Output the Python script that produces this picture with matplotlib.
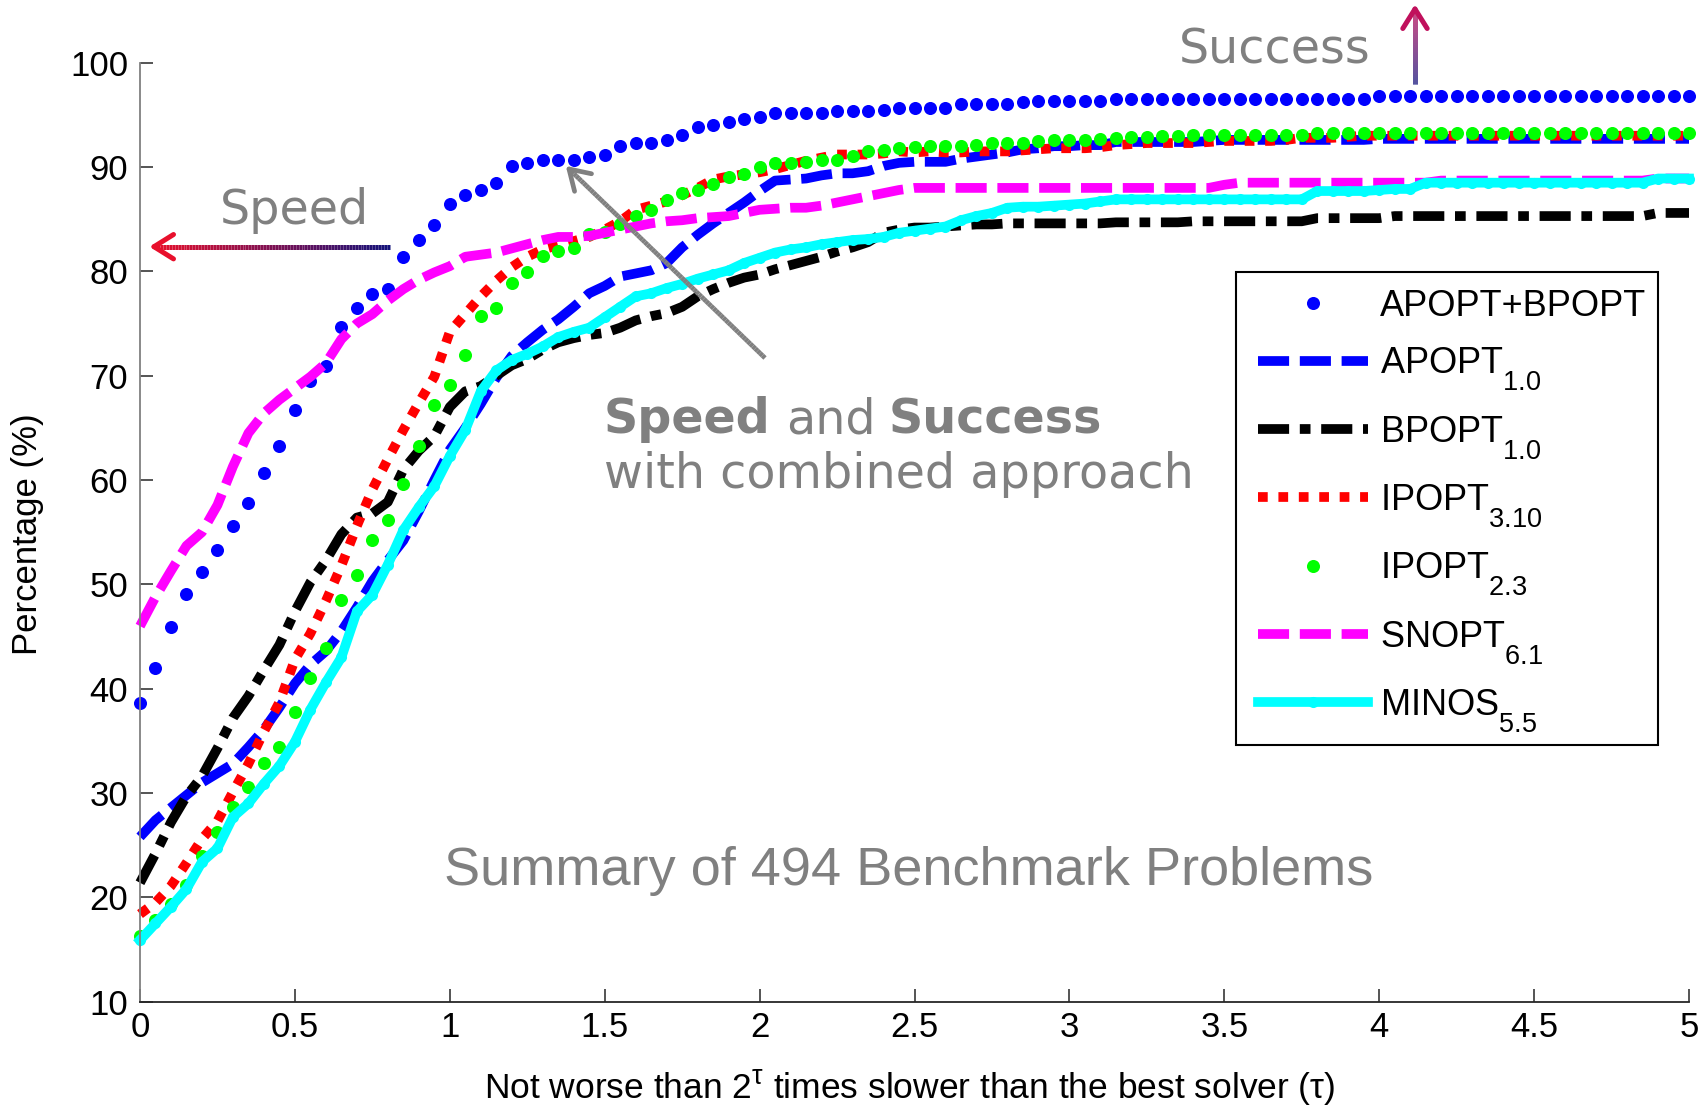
import numpy as np
import matplotlib
matplotlib.use("Agg")
import matplotlib.pyplot as plt
import matplotlib._mathtext as _mt
from matplotlib.collections import LineCollection
from matplotlib.lines import Line2D
from matplotlib.patches import Rectangle

plt.rcParams["font.family"] = ["Liberation Sans", "DejaVu Sans"]
plt.rcParams["mathtext.fontset"] = "custom"
plt.rcParams["mathtext.rm"] = "Liberation Sans"
plt.rcParams["mathtext.it"] = "Liberation Sans:italic"
plt.rcParams["mathtext.bf"] = "Liberation Sans:bold"
# larger, lower subscripts for the solver version numbers
_mt.SHRINK_FACTOR = 0.75
_mt.FontConstantsBase.sub1 = 0.85

# ---- performance-profile data (tau grid in steps of 0.05, percentage solved) ----
tau = np.round(np.arange(101) * 0.05, 2)

apopt_bpopt = [38.6, 42.0, 45.9, 49.1, 51.2, 53.3, 55.6, 57.8, 60.7, 63.3,
               66.7, 69.5, 70.9, 74.7, 76.5, 77.8, 78.3, 81.4, 83.0, 84.4,
               86.5, 87.3, 87.8, 88.5, 90.1, 90.4, 90.7, 90.7, 90.7, 91.0,
               91.2, 92.0, 92.3, 92.3, 92.6, 93.1, 93.8, 94.0, 94.3, 94.6,
               94.8, 95.2, 95.2, 95.2, 95.2, 95.4, 95.4, 95.4, 95.5, 95.7,
               95.7, 95.7, 95.7, 96.0, 96.0, 96.0, 96.0, 96.2, 96.3, 96.3,
               96.3, 96.3, 96.3, 96.5, 96.5, 96.5, 96.5, 96.5, 96.5, 96.5,
               96.5, 96.5, 96.5, 96.5, 96.5, 96.5, 96.5, 96.5, 96.5, 96.5,
               96.8, 96.8, 96.8, 96.8, 96.8, 96.8, 96.8, 96.8, 96.8, 96.8,
               96.8, 96.8, 96.8, 96.8, 96.8, 96.8, 96.8, 96.8, 96.8, 96.8, 96.8]

apopt = [25.8, 27.4, 28.6, 29.8, 31.0, 31.9, 32.8, 34.4, 36.1, 38.2,
         40.5, 42.3, 43.6, 45.5, 47.8, 50.3, 52.3, 54.2, 57.0, 60.0,
         62.9, 65.0, 67.3, 69.8, 71.9, 73.2, 74.4, 75.4, 76.6, 77.9,
         78.6, 79.5, 79.8, 80.1, 80.8, 82.3, 83.5, 84.6, 85.6, 86.6,
         87.7, 88.7, 88.8, 88.9, 89.2, 89.4, 89.4, 89.6, 90.1, 90.4,
         90.5, 90.5, 90.5, 90.8, 91.0, 91.2, 91.4, 91.7, 91.8, 92.0,
         92.0, 92.1, 92.1, 92.4, 92.4, 92.4, 92.4, 92.4, 92.4, 92.5,
         92.6, 92.6, 92.6, 92.6, 92.6, 92.6, 92.6, 92.6, 92.6, 92.6,
         92.7, 92.7, 92.7, 92.7, 92.7, 92.7, 92.7, 92.7, 92.7, 92.7,
         92.7, 92.7, 92.7, 92.7, 92.7, 92.7, 92.7, 92.7, 92.7, 92.7, 92.7]

bpopt = [21.4, 24.2, 27.2, 29.7, 31.6, 34.3, 37.2, 39.3, 41.8, 44.2,
         47.4, 50.2, 52.3, 54.8, 56.4, 56.8, 57.9, 61.0, 62.8, 64.2,
         67.0, 68.5, 69.0, 70.0, 71.0, 71.6, 72.5, 73.2, 73.6, 73.9,
         74.1, 74.6, 75.3, 75.7, 76.0, 76.6, 77.6, 78.3, 78.9, 79.4,
         79.7, 80.2, 80.6, 81.0, 81.4, 81.9, 82.3, 82.8, 83.7, 84.0,
         84.2, 84.2, 84.3, 84.4, 84.5, 84.5, 84.6, 84.6, 84.6, 84.6,
         84.6, 84.6, 84.6, 84.7, 84.7, 84.7, 84.7, 84.7, 84.8, 84.8,
         84.8, 84.8, 84.8, 84.8, 84.8, 84.8, 85.1, 85.1, 85.1, 85.1,
         85.1, 85.3, 85.3, 85.3, 85.3, 85.3, 85.3, 85.3, 85.3, 85.3,
         85.3, 85.3, 85.3, 85.3, 85.3, 85.3, 85.3, 85.3, 85.6, 85.6, 85.6]

ipopt310 = [18.4, 19.5, 21.1, 23.3, 25.6, 27.3, 30.1, 32.8, 35.9, 38.7,
            42.8, 45.3, 48.4, 51.8, 55.6, 59.1, 62.0, 64.8, 67.4, 69.9,
            74.2, 75.9, 77.6, 79.1, 80.4, 81.4, 82.1, 82.5, 82.9, 83.3,
            84.0, 84.8, 85.9, 86.3, 86.7, 87.3, 88.0, 88.8, 89.1, 89.3,
            89.5, 89.8, 90.2, 90.6, 90.9, 91.2, 91.2, 91.2, 91.3, 91.5,
            91.4, 91.5, 91.4, 91.4, 91.5, 91.5, 91.5, 91.6, 91.7, 91.8,
            91.8, 91.8, 91.9, 92.1, 92.2, 92.3, 92.3, 92.3, 92.3, 92.4,
            92.5, 92.5, 92.5, 92.5, 92.6, 92.8, 92.8, 92.8, 92.9, 93.0,
            93.0, 93.0, 93.0, 93.0, 93.0, 93.0, 93.0, 93.0, 93.0, 93.0,
            93.0, 93.0, 93.0, 93.0, 93.0, 93.0, 93.0, 93.0, 93.0, 93.0, 93.0]

ipopt23 = [16.3, 17.8, 19.4, 21.2, 24.0, 26.3, 28.7, 30.6, 32.9, 34.4,
           37.8, 41.0, 43.9, 48.5, 50.9, 54.3, 56.2, 59.6, 63.3, 67.2,
           69.1, 72.0, 75.7, 76.5, 78.9, 79.9, 81.5, 82.0, 82.2, 83.6,
           83.8, 84.5, 85.3, 85.9, 86.8, 87.5, 87.8, 88.4, 89.0, 89.3,
           90.0, 90.4, 90.4, 90.5, 90.7, 90.7, 91.1, 91.5, 91.6, 91.8,
           91.9, 92.0, 92.0, 92.0, 92.1, 92.3, 92.3, 92.3, 92.5, 92.6,
           92.6, 92.6, 92.7, 92.8, 92.9, 92.9, 93.0, 93.0, 93.1, 93.1,
           93.1, 93.1, 93.1, 93.1, 93.1, 93.1, 93.3, 93.3, 93.3, 93.3,
           93.3, 93.3, 93.3, 93.3, 93.3, 93.3, 93.3, 93.3, 93.3, 93.3,
           93.3, 93.3, 93.3, 93.3, 93.3, 93.3, 93.3, 93.3, 93.3, 93.3, 93.3]

snopt = [46.0, 48.8, 51.3, 53.7, 55.0, 57.6, 61.3, 64.5, 66.4, 67.7,
         68.8, 69.9, 71.2, 73.5, 75.0, 75.9, 77.2, 78.3, 79.2, 79.9,
         80.5, 81.4, 81.6, 81.8, 82.2, 82.6, 83.0, 83.3, 83.3, 83.4,
         83.7, 84.0, 84.3, 84.6, 84.8, 84.9, 85.1, 85.2, 85.3, 85.6,
         85.9, 86.0, 86.1, 86.1, 86.3, 86.6, 86.9, 87.2, 87.5, 87.8,
         88.0, 88.0, 88.0, 88.0, 88.0, 88.0, 88.0, 88.0, 88.0, 88.0,
         88.0, 88.0, 88.0, 88.0, 88.0, 88.0, 88.0, 88.0, 88.0, 88.0,
         88.3, 88.5, 88.5, 88.5, 88.5, 88.5, 88.5, 88.5, 88.5, 88.5,
         88.5, 88.5, 88.5, 88.5, 88.7, 88.7, 88.7, 88.7, 88.7, 88.7,
         88.7, 88.7, 88.7, 88.7, 88.7, 88.7, 88.7, 88.7, 88.9, 88.9, 88.9]

minos = [15.9, 17.5, 19.1, 20.8, 23.4, 24.7, 27.7, 29.0, 30.9, 32.6,
         34.9, 38.0, 40.6, 43.0, 47.4, 49.0, 51.9, 55.2, 57.4, 59.4,
         62.3, 64.8, 68.5, 70.5, 71.5, 72.1, 72.8, 73.7, 74.2, 74.6,
         75.6, 76.6, 77.6, 77.9, 78.4, 78.8, 79.3, 79.7, 80.1, 80.8,
         81.3, 81.8, 82.1, 82.3, 82.6, 82.8, 83.0, 83.1, 83.3, 83.7,
         83.9, 84.1, 84.3, 84.9, 85.3, 85.6, 86.1, 86.2, 86.2, 86.3,
         86.4, 86.5, 86.7, 86.9, 86.9, 86.9, 86.9, 86.9, 86.9, 86.9,
         86.9, 86.9, 86.9, 86.9, 86.9, 86.9, 87.7, 87.7, 87.7, 87.7,
         87.8, 87.9, 87.9, 88.5, 88.5, 88.5, 88.5, 88.5, 88.5, 88.5,
         88.5, 88.5, 88.5, 88.5, 88.5, 88.5, 88.5, 88.5, 88.9, 88.9, 88.9]

labels = ["APOPT+BPOPT",
          r"APOPT$_{\mathrm{1.0}}$",
          r"BPOPT$_{\mathrm{1.0}}$",
          r"IPOPT$_{\mathrm{3.10}}$",
          r"IPOPT$_{\mathrm{2.3}}$",
          r"SNOPT$_{\mathrm{6.1}}$",
          r"MINOS$_{\mathrm{5.5}}$"]

xticks = [0, 0.5, 1, 1.5, 2, 2.5, 3, 3.5, 4, 4.5, 5]
xticklabels = ["0", "0.5", "1", "1.5", "2", "2.5", "3", "3.5", "4", "4.5", "5"]
yticks = [10, 20, 30, 40, 50, 60, 70, 80, 90, 100]

# ---- figure ----
W, H = 1707, 1111
fig = plt.figure(figsize=(W / 100, H / 100), dpi=100)
ax = fig.add_axes([140 / W, 1 - 1001.7 / H, 1549 / W, 939 / H])

LW = 7.0
MS = 9.4
hs = []
hs += ax.plot(tau, apopt_bpopt, ls="None", marker="o", ms=MS, color="#0000ff",
              mec="none", clip_on=False)
l, = ax.plot(tau, apopt, color="#0000ff", lw=LW, dash_capstyle="butt", clip_on=False)
l.set_dashes([3.2, 1.1]); hs.append(l)
l, = ax.plot(tau, bpopt, color="black", lw=LW, dash_capstyle="butt", clip_on=False)
l.set_dashes([3.2, 1.1, 1.1, 1.1]); hs.append(l)
l, = ax.plot(tau, ipopt310, color="#ff0000", lw=LW, dash_capstyle="butt", clip_on=False)
l.set_dashes([1.0, 1.1]); hs.append(l)
hs += ax.plot(tau, ipopt23, ls="None", marker="o", ms=MS, color="#00ff00",
              mec="none", clip_on=False)
l, = ax.plot(tau, snopt, color="#ff00ff", lw=LW, dash_capstyle="butt", clip_on=False)
l.set_dashes([3.2, 1.1]); hs.append(l)
hs += ax.plot(tau, minos, color="#00ffff", lw=LW, marker="o", ms=8.0, mec="none",
              clip_on=False)

ax.set_xlim(0, 5)
ax.set_ylim(10, 100)
ax.set_xticks(xticks)
ax.set_xticklabels(xticklabels)
ax.set_yticks(yticks)
for s in ("top", "right"):
    ax.spines[s].set_visible(False)
ax.spines["left"].set_color("#808080")
ax.spines["bottom"].set_color("#262626")
ax.spines["left"].set_linewidth(1.3)
ax.spines["bottom"].set_linewidth(1.3)
ax.tick_params(direction="in", length=9.5, width=1.1, labelsize=25, color="#262626")
ax.tick_params(axis="y", pad=8.4)
ax.tick_params(axis="x", pad=7.0)

ax.set_xlabel(r"Not worse than 2$^{\mathrm{\tau}}$ times slower than the best solver ($\mathrm{\tau}$)",
              fontsize=25.5)
ax.xaxis.label.set_va("baseline")
ax.xaxis.set_label_coords((910 - 140) / 1549, (1001.7 - 1099) / 939)
ax.set_ylabel("Percentage (%)", fontsize=25)
ax.yaxis.label.set_va("center")
ax.yaxis.set_label_coords((28 - 140) / 1549, (1001.7 - 534) / 939)


# ---- legend: white box with black border, entries placed inside ----
def fpos(x, y):
    return (x / W, 1 - y / H)


box = Rectangle(fpos(1236, 745), 422 / W, 473 / H, transform=fig.transFigure,
                facecolor="white", edgecolor="black", lw=1.5, zorder=4.9)
ax.add_patch(box)
box.set_clip_on(False)
leg = ax.legend(hs, labels, loc="upper left",
                bbox_to_anchor=((1258 - 140) / 1549, (1001.7 - 289) / 939),
                borderaxespad=0, borderpad=0, frameon=False, fontsize=26,
                handlelength=3.05, handletextpad=0.33, labelspacing=0.59,
                numpoints=1)
leg.set_zorder(5)

# ---- annotations (positions in figure pixels, y measured from the top) ----
GRAY = "#808080"
VERD = ["DejaVu Sans"]


def arrow(tail, tip, c_tail, c_tip, lw=3.6, head=23, ang=32, n=80):
    c0 = np.array(matplotlib.colors.to_rgb(c_tail))
    c1 = np.array(matplotlib.colors.to_rgb(c_tip))
    t = np.linspace(0, 1, n + 1)
    xs = tail[0] + (tip[0] - tail[0]) * t
    ys = tail[1] + (tip[1] - tail[1]) * t
    segs = [[fpos(xs[i], ys[i]), fpos(xs[i + 1], ys[i + 1])] for i in range(n)]
    cols = [c0 + (c1 - c0) * (i + 0.5) / n for i in range(n)]
    lc = LineCollection(segs, colors=cols, linewidths=lw, transform=fig.transFigure,
                        capstyle="butt")
    fig.add_artist(lc)
    d = np.array([tail[0] - tip[0], tail[1] - tip[1]], float)
    d /= np.hypot(*d)
    for sgn in (1, -1):
        a = np.radians(ang) * sgn
        r = np.array([d[0] * np.cos(a) - d[1] * np.sin(a),
                      d[0] * np.sin(a) + d[1] * np.cos(a)])
        p = (tip[0] + head * r[0], tip[1] + head * r[1])
        (x0, y0), (x1, y1) = fpos(*p), fpos(*tip)
        fig.add_artist(Line2D([x0, x1], [y0, y1], transform=fig.transFigure,
                              color=c1, lw=lw, solid_capstyle="round"))


arrow((390, 246.7), (154, 246.7), "#12127a", "#e8102c")
arrow((1415, 84), (1415, 9), "#1c1c82", "#c0105c")
arrow((765, 358), (569, 169), GRAY, GRAY, lw=3.4)

fig.text(*fpos(220, 224), "Speed", fontsize=34.3, family=VERD, color=GRAY,
         ha="left", va="baseline")
fig.text(*fpos(1179, 63), "Success", fontsize=34.3, family=VERD, color=GRAY,
         ha="left", va="baseline")
fig.text(*fpos(604, 433), "Speed", fontsize=34.3, family=VERD, color=GRAY,
         weight="bold", ha="left", va="baseline")
fig.text(*fpos(786, 433), "and", fontsize=34.3, family=VERD, color=GRAY,
         ha="left", va="baseline")
fig.text(*fpos(889, 433), "Success", fontsize=34.3, family=VERD, color=GRAY,
         weight="bold", ha="left", va="baseline")
fig.text(*fpos(604, 488), "with combined approach", fontsize=34.3, family=VERD,
         color=GRAY, ha="left", va="baseline")
fig.text(*fpos(909, 885), "Summary of 494 Benchmark Problems", fontsize=39,
         color=GRAY, ha="center", va="baseline")

fig.savefig("out.png", dpi=100)
